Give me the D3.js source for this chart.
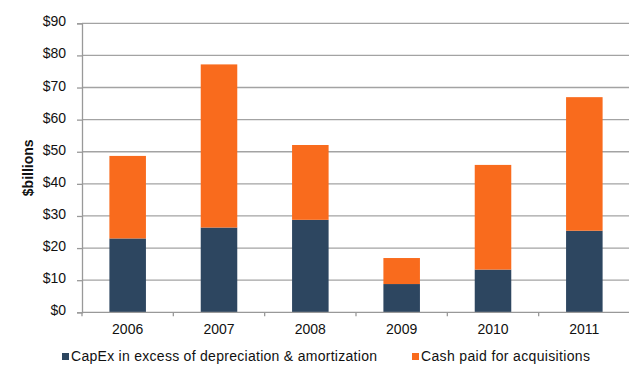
<!DOCTYPE html>
<html>
<head>
<meta charset="utf-8">
<script src="https://cdn.jsdelivr.net/npm/d3@7"></script>
<style>
  html, body { margin: 0; padding: 0; background: #fff; }
  svg { display: block; font-family: "Liberation Sans", Arial, sans-serif; }
</style>
</head>
<body>
<svg id="chart" width="629" height="371"></svg>
<script>
const years = ["2006", "2007", "2008", "2009", "2010", "2011"];
const capexExcess = [23.0, 26.4, 28.8, 8.8, 13.3, 25.4];
const acquisitions = [25.7, 50.8, 23.3, 8.1, 32.6, 41.6];
const yTicks = [0, 10, 20, 30, 40, 50, 60, 70, 80, 90];
const seriesNames = ["CapEx in excess of depreciation & amortization", "Cash paid for acquisitions"];
const seriesColors = ["#2d4660", "#f96b1d"];

const svg = d3.select("#chart");
const margin = { left: 82, right: -1, top: 23.3, bottom: 58.7 };
const W = 629, H = 371;
const FONT = 14;

const x = d3.scaleBand().domain(years).range([margin.left, W - margin.right]).paddingInner(0.6).paddingOuter(0.3);
const y = d3.scaleLinear().domain([0, 90]).range([H - margin.bottom, margin.top]);

const rows = years.map((yr, i) => ({ year: yr, capex: capexExcess[i], acq: acquisitions[i] }));
const stacked = d3.stack().keys(["capex", "acq"])(rows);

// horizontal gridlines
svg.append("g")
  .selectAll("line")
  .data(yTicks.filter(t => t > 0))
  .join("line")
  .attr("x1", margin.left).attr("x2", W)
  .attr("y1", d => y(d)).attr("y2", d => y(d))
  .attr("stroke", "#a3a3a3").attr("stroke-width", 1.3);

// stacked bars
svg.append("g")
  .selectAll("g")
  .data(stacked)
  .join("g")
  .attr("fill", (d, i) => seriesColors[i])
  .selectAll("rect")
  .data(d => d)
  .join("rect")
  .attr("x", d => x(d.data.year))
  .attr("width", x.bandwidth())
  .attr("y", d => y(d[1]))
  .attr("height", d => y(d[0]) - y(d[1]));

// y axis
const yAxis = svg.append("g")
  .attr("transform", `translate(${margin.left},0)`)
  .call(d3.axisLeft(y).tickValues(yTicks).tickFormat(d => "$" + d).tickSize(5).tickPadding(11));
yAxis.select(".domain").attr("stroke", "#999").attr("stroke-width", 1.3);
yAxis.selectAll(".tick line").attr("stroke", "#999").attr("stroke-width", 1.3);
yAxis.selectAll(".tick text").attr("font-size", FONT).attr("fill", "#111").attr("dy", "0.18em")
  .attr("font-family", "Liberation Sans, Arial, sans-serif");

// x axis with category boundary ticks
const xAxisG = svg.append("g").attr("transform", `translate(0,${y(0)})`);
xAxisG.append("line").attr("x1", margin.left).attr("x2", W)
  .attr("stroke", "#999").attr("stroke-width", 1.3);
const step = x.step();
const boundaries = d3.range(years.length + 1).map(i => x(years[0]) - x.paddingOuter() * step + i * step);
xAxisG.selectAll("line.b")
  .data(boundaries)
  .join("line").attr("class", "b")
  .attr("x1", d => d).attr("x2", d => d)
  .attr("y1", 0).attr("y2", 4)
  .attr("stroke", "#999").attr("stroke-width", 1.3);
xAxisG.selectAll("text")
  .data(years)
  .join("text")
  .attr("x", d => x(d) + x.bandwidth() / 2)
  .attr("y", 21.5)
  .attr("text-anchor", "middle")
  .attr("font-size", FONT).attr("fill", "#111")
  .text(d => d);

// y axis title
svg.append("text")
  .attr("transform", `translate(33,${(y(0) + y(90)) / 2}) rotate(-90)`)
  .attr("text-anchor", "middle")
  .attr("font-size", FONT).attr("font-weight", "bold").attr("fill", "#111")
  .text("$billions");

// legend
const legendX = [62, 412];
const legendW = [306, 169];
const legend = svg.append("g").attr("transform", "translate(0,361)");
seriesNames.forEach((name, i) => {
  legend.append("rect").attr("x", legendX[i]).attr("y", -8).attr("width", 7).attr("height", 7).attr("fill", seriesColors[i]);
  legend.append("text").attr("x", legendX[i] + 9).attr("y", 0)
    .attr("font-size", FONT).attr("fill", "#111")
    .attr("textLength", legendW[i]).attr("lengthAdjust", "spacing")
    .text(name);
});
</script>
</body>
</html>
